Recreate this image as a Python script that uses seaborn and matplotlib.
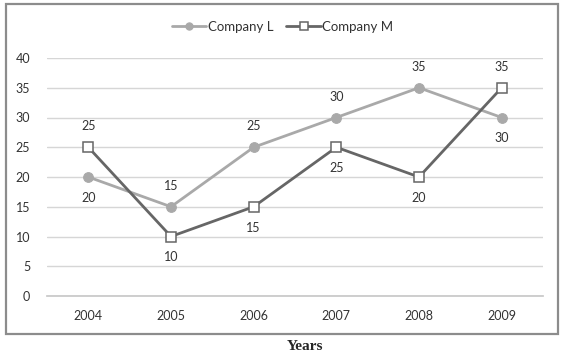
import matplotlib
matplotlib.use("Agg")
import matplotlib.pyplot as plt
import seaborn as sns
import pandas as pd
from matplotlib.patches import Rectangle

years = ["2004", "2005", "2006", "2007", "2008", "2009"]
company_l = [20, 15, 25, 30, 35, 30]
company_m = [25, 10, 15, 25, 20, 35]
l_label_pos = ["below", "above", "above", "above", "above", "below"]
m_label_pos = ["above", "below", "below", "below", "below", "above"]
y_ticks = [0, 5, 10, 15, 20, 25, 30, 35, 40]

sns.set_theme(style="white")
plt.rcParams['font.family'] = ['Lato', 'DejaVu Sans']

fig = plt.figure(figsize=(5.67, 3.55), dpi=100)
ax = fig.add_axes([47/567, 1-296/355, (543-47)/567, (296-58)/355])

df = pd.DataFrame({"x": list(range(len(years))) * 2,
                   "value": company_l + company_m,
                   "series": ["Company L"] * 6 + ["Company M"] * 6})

c_l = "#a9a9a9"
c_m = "#666666"

sns.lineplot(data=df[df.series == "Company L"], x="x", y="value", ax=ax,
             color=c_l, linewidth=2.0, marker="o", markersize=7,
             markerfacecolor=c_l, markeredgecolor=c_l, label="Company L")
sns.lineplot(data=df[df.series == "Company M"], x="x", y="value", ax=ax,
             color=c_m, linewidth=2.0, marker="s", markersize=7.5,
             markerfacecolor="white", markeredgecolor=c_m, markeredgewidth=1.1,
             label="Company M")

for i, (v, p) in enumerate(zip(company_l, l_label_pos)):
    ax.annotate(str(v), (i, v), xytext=(0, 15 if p == "above" else -15),
                textcoords="offset points", ha="center", va="center",
                fontsize=9, color="#333333")
for i, (v, p) in enumerate(zip(company_m, m_label_pos)):
    ax.annotate(str(v), (i, v), xytext=(0, 15 if p == "above" else -15),
                textcoords="offset points", ha="center", va="center",
                fontsize=9, color="#333333")

ax.set_xlim(-0.5, 5.5)
ax.set_ylim(0, 40)
ax.set_yticks(y_ticks)
ax.set_xticks(range(len(years)))
ax.set_xticklabels(years)
ax.tick_params(axis="both", length=0, labelsize=9, colors="#333333")
ax.tick_params(axis="y", pad=12)
ax.tick_params(axis="x", pad=10)
ax.yaxis.grid(True, color="#d6d6d6", linewidth=1.0)
ax.set_axisbelow(True)
for s in ["top", "right", "left"]:
    ax.spines[s].set_visible(False)
ax.spines["bottom"].set_color("#c8c8c8")
ax.set_xlabel("")
ax.set_ylabel("")

ax.legend(loc="center", bbox_to_anchor=(0.475, 1.13), ncol=2, frameon=False,
          fontsize=9.5, handlelength=2.6, columnspacing=1.0, handletextpad=0.1,
          labelcolor="#333333", markerscale=0.75)

fig.patches.append(Rectangle((6/567, 1-334/355), (558-6)/567, (334-4)/355,
                             transform=fig.transFigure, fill=False,
                             edgecolor="#8c8c8c", linewidth=1.6))

fig.text(305/567, 1-347/355, "Years", ha="center", va="center",
         fontsize=11, fontweight="bold", family="Liberation Serif")

fig.savefig("out.png", dpi=100)
